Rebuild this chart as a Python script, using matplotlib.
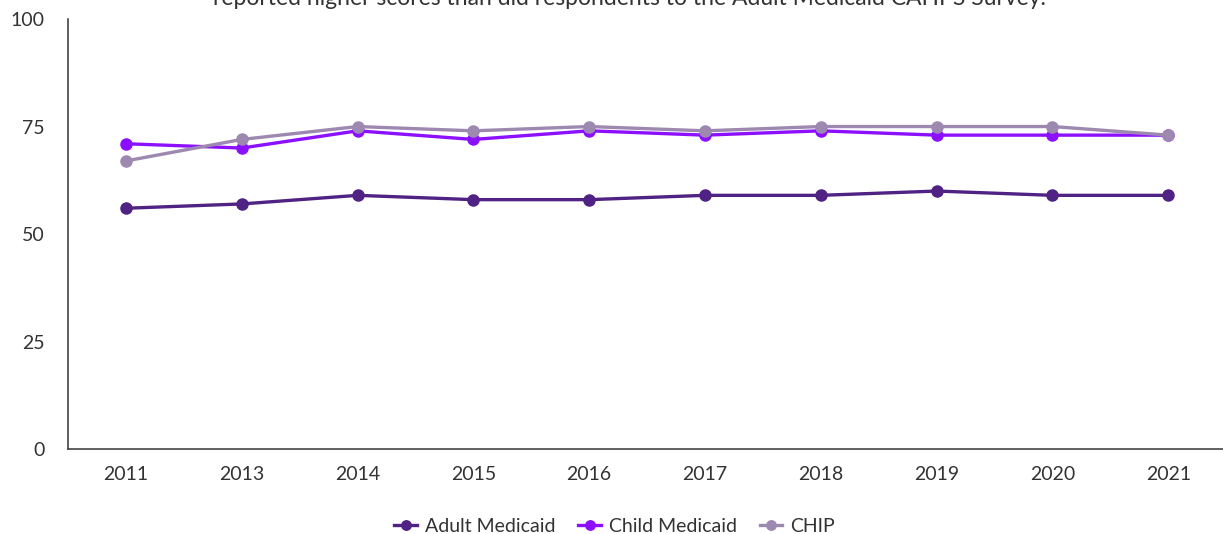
import numpy as np
import matplotlib.pyplot as plt

plt.rcParams['font.family'] = ['Lato', 'DejaVu Sans']

years = ["2011", "2013", "2014", "2015", "2016", "2017", "2018", "2019", "2020", "2021"]
adult_medicaid = [56, 57, 59, 58, 58, 59, 59, 60, 59, 59]
child_medicaid = [71, 70, 74, 72, 74, 73, 74, 73, 73, 73]
chip = [67, 72, 75, 74, 75, 74, 75, 75, 75, 73]

series = [
    ("Adult Medicaid", adult_medicaid, "#4f2283"),
    ("Child Medicaid", child_medicaid, "#8c0fff"),
    ("CHIP", chip, "#9d88b0"),
]

fig = plt.figure(figsize=(12.23, 5.34), dpi=100)
ax = fig.add_axes([0.0556, 0.159, 0.947, 0.8054])

x = np.arange(len(years))
for name, vals, col in series:
    ax.plot(x, vals, color=col, linewidth=2.4, marker="o", markersize=8, label=name)

ax.set_xlim(-0.5, len(years) - 0.5)
ax.set_ylim(0, 100)
ax.set_yticks([0, 25, 50, 75, 100])
ax.set_xticks(x)
ax.set_xticklabels(years)
ax.tick_params(axis="both", length=0, labelsize=14, colors="#333333")
ax.tick_params(axis="y", pad=17)
ax.tick_params(axis="x", pad=12)

for s in ["top", "right"]:
    ax.spines[s].set_visible(False)
for s in ["left", "bottom"]:
    ax.spines[s].set_color("#444444")
    ax.spines[s].set_linewidth(1.2)

ax.legend(loc="lower center", bbox_to_anchor=(0.472, -0.24), ncol=3, frameon=False,
          fontsize=14, handlelength=1.15, columnspacing=1.2, handletextpad=0.4,
          markerscale=0.85, labelcolor="#333333")

# title partly cut off at the top of the image, as in the source
fig.text(0.515, 0.99, "reported higher scores than did respondents to the Adult Medicaid CAHPS Survey.",
         ha="center", va="baseline", fontsize=16.5, color="#333333")

fig.savefig("out.png", dpi=100)
